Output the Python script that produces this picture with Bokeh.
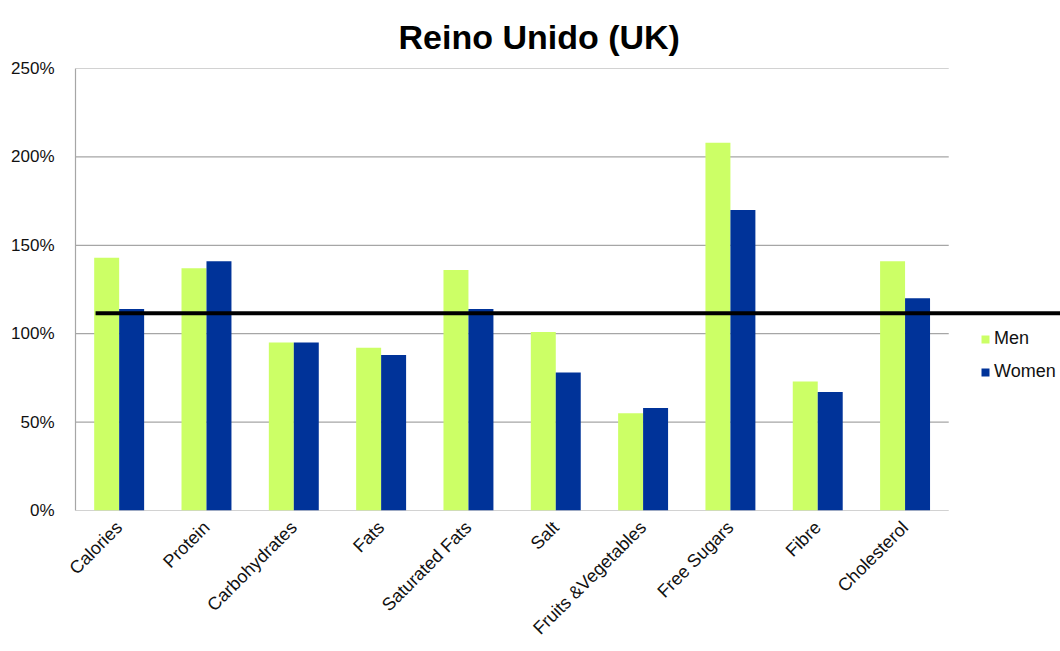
from math import pi

from bokeh.embed import file_html
from bokeh.resources import INLINE
from bokeh.plotting import figure
from bokeh.models import (ColumnDataSource, Range1d, FixedTicker, PrintfTickFormatter,
                          Legend, LegendItem)
from bokeh.transform import dodge

# Intake relative to recommended levels (%)
categories = ["Calories", "Protein", "Carbohydrates", "Fats", "Saturated Fats", "Salt",
              "Fruits &Vegetables", "Free Sugars", "Fibre", "Cholesterol"]
men = [143, 137, 95, 92, 136, 101, 55, 208, 73, 141]
women = [114, 141, 95, 88, 114, 78, 58, 170, 67, 120]
reference_level = 111.5
y_ticks = [0, 50, 100, 150, 200, 250]

GREEN = "#ccff66"
BLUE = "#003399"
GRID = "#a6a6a6"
FONT = "Liberation Sans"
TEXT = "#111111"

n = len(categories)
centers = [i + 0.5 for i in range(n)]
source = ColumnDataSource(dict(x=centers, men=men, women=women))

p = figure(width=1060, height=651, output_backend="svg", toolbar_location=None,
           x_range=Range1d(0, 11.28), y_range=Range1d(0, 250),
           min_border_left=75, min_border_right=0, min_border_top=68, min_border_bottom=141)
p.outline_line_color = None
p.xgrid.visible = False
p.ygrid.visible = False

# Horizontal gridlines stop at the last category
p.segment(x0=[0] * len(y_ticks), x1=[n] * len(y_ticks), y0=y_ticks, y1=y_ticks,
          line_color=GRID, line_width=1.2)

bar_w = 0.286
r_men = p.vbar(x=dodge("x", -bar_w / 2, range=p.x_range), top="men", width=bar_w,
               source=source, fill_color=GREEN, line_color=None)
r_women = p.vbar(x=dodge("x", bar_w / 2, range=p.x_range), top="women", width=bar_w,
                 source=source, fill_color=BLUE, line_color=None)

# Recommended-level line running past the plot area
p.line(x=[0.23, 11.28], y=[reference_level, reference_level], line_color="black", line_width=4)

# Y axis
p.yaxis.ticker = FixedTicker(ticks=y_ticks)
p.yaxis.formatter = PrintfTickFormatter(format="%d%%")
p.yaxis.axis_line_color = GRID
p.yaxis.axis_line_width = 1.2
p.yaxis.major_tick_line_color = None
p.yaxis.minor_tick_line_color = None
p.yaxis.major_label_text_font = FONT
p.yaxis.major_label_text_font_size = "17px"
p.yaxis.major_label_text_color = TEXT
p.yaxis.major_label_standoff = 15

# X axis with rotated category names
p.xaxis.ticker = FixedTicker(ticks=centers)
p.xaxis.major_label_overrides = {c: name for c, name in zip(centers, categories)}
p.xaxis.major_label_orientation = pi / 4
p.xaxis.axis_line_color = None
p.xaxis.major_tick_line_color = None
p.xaxis.minor_tick_line_color = None
p.xaxis.major_label_text_font = FONT
p.xaxis.major_label_text_font_size = "18px"
p.xaxis.major_label_text_color = TEXT
p.xaxis.major_label_standoff = 8

legend = Legend(items=[LegendItem(label="Men", renderers=[r_men]),
                       LegendItem(label="Women", renderers=[r_women])],
                location=(905, 128), orientation="vertical",
                glyph_width=10, glyph_height=10, label_height=20, spacing=12,
                label_standoff=4, padding=0, margin=0,
                border_line_color=None, background_fill_alpha=0,
                label_text_font=FONT, label_text_font_size="18px", label_text_color=TEXT)
p.add_layout(legend)

p.title.text = "Reino Unido (UK)"
p.title.text_font = FONT
p.title.text_font_style = "bold"
p.title.text_font_size = "34px"
p.title.text_color = "black"
p.title.align = "left"
p.title.offset = 323
p.title.standoff = 26

open("out.html", "w").write(file_html(p, INLINE))
